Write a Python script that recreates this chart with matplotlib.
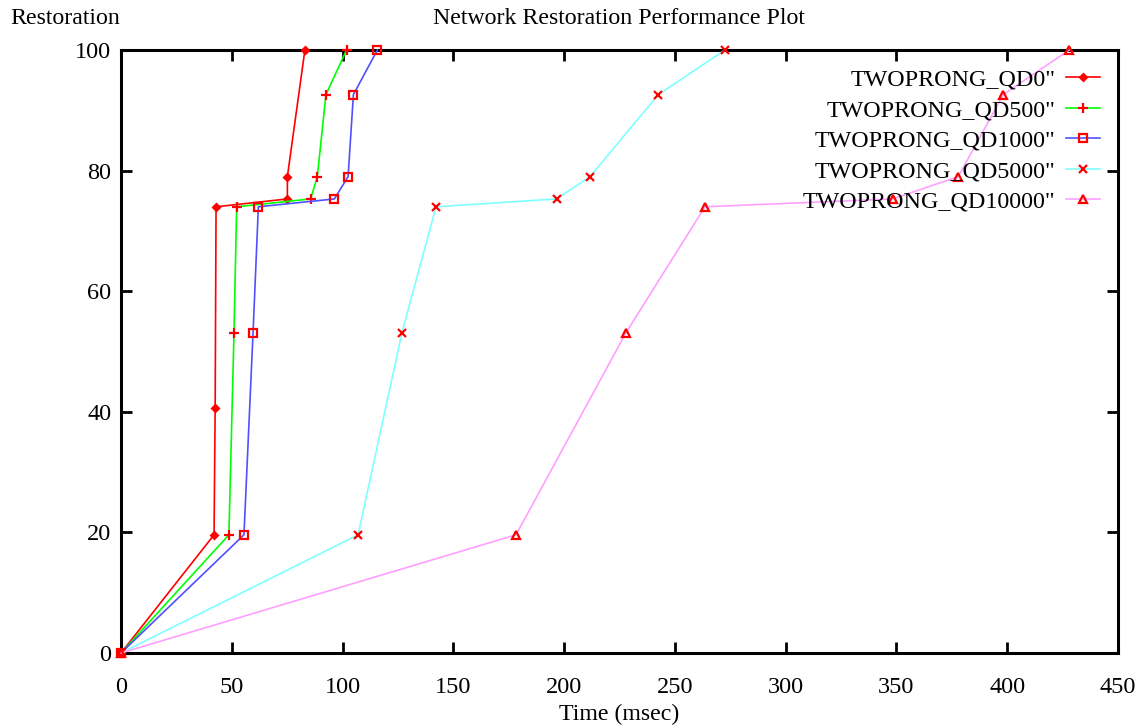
import matplotlib
matplotlib.use("Agg")
import matplotlib.pyplot as plt

plt.rcParams['font.family'] = ['Liberation Serif', 'DejaVu Serif']

# Data (time in msec, restoration in %)
qd0_x = [0, 42.0, 42.5, 42.9, 75.1, 75.1, 83.0]
qd0_y = [0, 19.6, 40.6, 74.0, 75.3, 79.0, 100]

qd500_x = [0, 48.7, 51.0, 52.2, 85.6, 88.6, 92.5, 101.8]
qd500_y = [0, 19.6, 53.1, 74.0, 75.3, 79.0, 92.6, 100]

qd1000_x = [0, 55.5, 59.6, 62.0, 96.3, 102.5, 104.9, 115.7]
qd1000_y = [0, 19.6, 53.1, 74.0, 75.3, 79.0, 92.6, 100]

qd5000_x = [0, 107.0, 126.8, 142.2, 196.6, 211.7, 242.5, 272.6]
qd5000_y = [0, 19.6, 53.1, 74.0, 75.3, 79.0, 92.6, 100]

qd10000_x = [0, 178.3, 227.9, 263.6, 348.3, 377.9, 398.2, 428.0]
qd10000_y = [0, 19.6, 53.1, 74.0, 75.3, 79.0, 92.6, 100]

labels = ['TWOPRONG_QD0"', 'TWOPRONG_QD500"', 'TWOPRONG_QD1000"',
          'TWOPRONG_QD5000"', 'TWOPRONG_QD10000"']
x_ticks = [0, 50, 100, 150, 200, 250, 300, 350, 400, 450]
y_ticks = [0, 20, 40, 60, 80, 100]

series = [(qd0_x, qd0_y), (qd500_x, qd500_y), (qd1000_x, qd1000_y),
          (qd5000_x, qd5000_y), (qd10000_x, qd10000_y)]
line_colors = ['#ff0000', '#00ff00', '#5050ff', '#80ffff', '#ffa0ff']
markers = ['D', '+', 's', 'x', '^']
msizes = [3.5, 7, 5.5, 5.5, 5.5]
mfill = ['#ff0000', 'none', 'none', 'none', 'none']

fig = plt.figure(figsize=(11.44, 7.28), dpi=100)
ax = fig.add_axes([121/1144, 75/728, (1118-121)/1144, (653-50)/728])

for (xs, ys), lc, m, ms, mf, lab in zip(series, line_colors, markers, msizes, mfill, labels):
    ax.plot(xs, ys, color=lc, lw=1.2, marker=m, markersize=ms,
            markeredgecolor='#ff0000', markerfacecolor=mf, markeredgewidth=1.6,
            label=lab, clip_on=False, zorder=3)

ax.set_xlim(0, 450)
ax.set_ylim(0, 100)
ax.set_xticks(x_ticks)
ax.set_yticks(y_ticks)
ax.tick_params(direction='in', length=8, width=2, top=True, right=True,
               labelsize=17.5, colors='black')
ax.tick_params(axis='x', pad=17)
ax.tick_params(axis='y', pad=7)
for s in ax.spines.values():
    s.set_linewidth(2.2)

fig.text(10/1144, 1 - 19/728, 'Restoration', ha='left', va='center', fontsize=17.2)
fig.text(619/1144, 1 - 19/728, 'Network Restoration Performance Plot', ha='center', va='center', fontsize=17.2)
fig.text(619/1144, 1 - 714/728, 'Time (msec)', ha='center', va='center', fontsize=17.2)

leg = ax.legend(loc='upper right', bbox_to_anchor=(1100/1144, 1 - 69/728),
                bbox_transform=fig.transFigure, frameon=False, markerfirst=False,
                fontsize=17.3, handlelength=1.4, handletextpad=0.45, labelspacing=0.36,
                borderpad=0, borderaxespad=0, numpoints=1)
for t in leg.get_texts():
    t.set_ha('right')
leg._legend_box.align = 'right'

fig.savefig('out.png', dpi=100)
